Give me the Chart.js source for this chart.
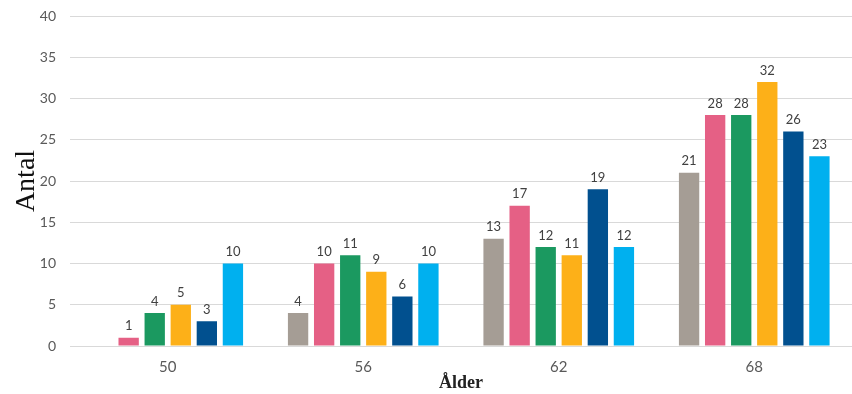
<!DOCTYPE html>
<html>
<head>
<meta charset="utf-8">
<script src="https://cdn.jsdelivr.net/npm/chart.js@4/dist/chart.umd.min.js"></script>
<style>
html,body{margin:0;padding:0;background:#fff;}
#wrap{width:852px;height:394px;position:relative;}
</style>
</head>
<body>
<div id="wrap"><canvas id="c" width="852" height="394"></canvas></div>
<script>
const categories = ['50', '56', '62', '68'];
const seriesGray   = [null, 4, 13, 21];
const seriesPink   = [1, 10, 17, 28];
const seriesGreen  = [4, 11, 12, 28];
const seriesOrange = [5, 9, 11, 32];
const seriesNavy   = [3, 6, 19, 26];
const seriesCyan   = [10, 10, 12, 23];
const yTicks = [0, 5, 10, 15, 20, 25, 30, 35, 40];

const colors = ['#A59D95', '#E56085', '#1B9960', '#FDB018', '#01508F', '#00B0EF'];
const allSeries = [seriesGray, seriesPink, seriesGreen, seriesOrange, seriesNavy, seriesCyan];

const labelPlugin = {
  id: 'valueLabels',
  afterDatasetsDraw(chart) {
    const ctx = chart.ctx;
    ctx.save();
    ctx.font = '13px Lato, "Liberation Sans", sans-serif';
    ctx.fillStyle = '#404040';
    ctx.textAlign = 'center';
    ctx.textBaseline = 'bottom';
    chart.data.datasets.forEach((ds, i) => {
      const meta = chart.getDatasetMeta(i);
      meta.data.forEach((el, j) => {
        const v = ds.data[j];
        if (v === null || v === undefined) return;
        ctx.fillText(String(v), el.x, el.y - 5);
      });
    });
    ctx.restore();
  }
};

new Chart(document.getElementById('c'), {
  type: 'bar',
  data: {
    labels: categories,
    datasets: allSeries.map((d, i) => ({
      label: 'S' + (i + 1),
      data: d,
      backgroundColor: colors[i],
      borderWidth: 0,
      categoryPercentage: 0.8,
      barPercentage: 0.78
    }))
  },
  options: {
    responsive: false,
    animation: false,
    layout: { padding: { top: 16, right: 0, left: 0, bottom: 0 } },
    plugins: { legend: { display: false }, tooltip: { enabled: false } },
    scales: {
      x: {
        grid: { display: false, drawTicks: false },
        border: { display: false },
        ticks: { color: '#595959', font: { family: 'Lato, "Liberation Sans", sans-serif', size: 15 }, padding: 12 },
        title: { display: true, text: 'Ålder', color: '#222', font: { family: '"Liberation Serif", "DejaVu Serif", serif', size: 18, weight: 'bold' }, padding: { top: 0, bottom: 0 } },
        afterFit(s) { s.height = 48; s.paddingLeft = 0; s.paddingRight = 0; }
      },
      y: {
        min: 0, max: 40,
        afterBuildTicks(s) { s.ticks = yTicks.map(v => ({ value: v })); },
        grid: { color: '#D9D9D9', lineWidth: 1, drawTicks: false },
        border: { display: false },
        ticks: { color: '#595959', font: { family: 'Lato, "Liberation Sans", sans-serif', size: 14 }, padding: 14 },
        title: { display: true, text: 'Antal', color: '#111', font: { family: '"Liberation Serif", "DejaVu Serif", serif', size: 28 }, padding: { top: 10, bottom: 0 } },
        afterFit(s) { s.width = 70; s.paddingTop = 0; s.paddingBottom = 0; }
      }
    }
  },
  plugins: [labelPlugin]
});
</script>
</body>
</html>
